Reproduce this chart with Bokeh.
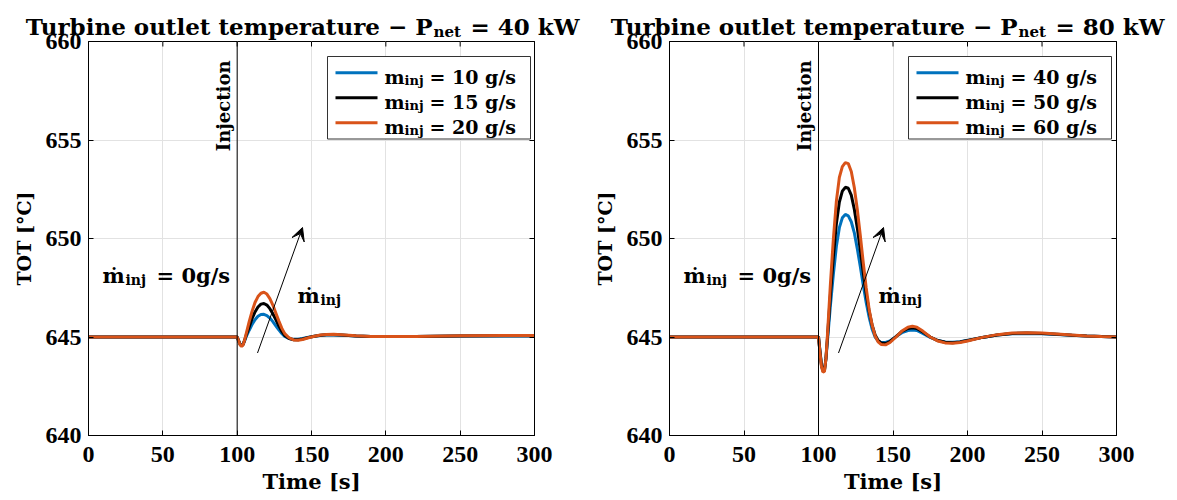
from math import pi
from bokeh.plotting import figure
from bokeh.layouts import row, column
from bokeh.models import (Range1d, Span, Label, Arrow, VeeHead, LinearAxis,
                          FixedTicker, CustomJSTickFormatter)
from bokeh.core.properties import value
from bokeh.embed import file_html
from bokeh.resources import INLINE

# ---------------- data ----------------
x_ticks = [0, 50, 100, 150, 200, 250, 300]
y_ticks = [640, 645, 650, 655, 660]
t_inj = 100

t_40 = [0, 100, 101, 102, 103, 104, 105, 106, 108, 110, 112, 114, 116, 118, 120,
        122, 124, 126, 128, 130, 132, 135, 138, 141, 144, 148, 152, 156, 160, 165,
        170, 175, 180, 190, 200, 220, 250, 280, 300]
tot_10 = [645.0, 645.0, 644.8, 644.64, 644.58, 644.64, 644.8, 645.0, 645.33, 645.63,
          645.88, 646.05, 646.14, 646.15, 646.09, 645.96, 645.78, 645.57, 645.36, 645.18,
          645.03, 644.92, 644.88, 644.89, 644.93, 644.99, 645.04, 645.08, 645.1, 645.1,
          645.09, 645.07, 645.05, 645.03, 645.02, 645.03, 645.05, 645.05, 645.05]
tot_15 = [645.0, 645.0, 644.8, 644.62, 644.55, 644.62, 644.83, 645.07, 645.5, 645.93,
          646.27, 646.52, 646.67, 646.7, 646.62, 646.44, 646.18, 645.88, 645.57, 645.29,
          645.08, 644.92, 644.86, 644.86, 644.9, 644.98, 645.04, 645.09, 645.11, 645.12,
          645.1, 645.08, 645.05, 645.03, 645.02, 645.03, 645.05, 645.06, 645.06]
tot_20 = [645.0, 645.0, 644.8, 644.6, 644.52, 644.6, 644.85, 645.15, 645.75, 646.3,
          646.75, 647.05, 647.22, 647.27, 647.18, 646.95, 646.62, 646.22, 645.82, 645.45,
          645.17, 644.95, 644.85, 644.83, 644.87, 644.96, 645.04, 645.1, 645.13, 645.14,
          645.12, 645.09, 645.06, 645.03, 645.02, 645.03, 645.06, 645.07, 645.07]

t_80 = [0, 100, 101, 102, 103, 104, 105, 106, 107, 108, 110, 112, 114, 116, 118, 120,
        122, 124, 126, 128, 130, 132, 134, 136, 138, 140, 142, 145, 148, 152, 156, 160,
        163, 166, 170, 175, 180, 185, 190, 195, 200, 210, 220, 230, 240, 250, 260, 270,
        280, 290, 300]
tot_40 = [645.0, 645.0, 644.3, 643.6, 643.32, 643.35, 643.9, 644.8, 645.7, 646.6,
          648.2, 649.6, 650.55, 651.05, 651.22, 651.15, 650.85, 650.3, 649.5, 648.6,
          647.65, 646.75, 646.0, 645.4, 645.0, 644.8, 644.72, 644.72, 644.8, 645.02,
          645.22, 645.33, 645.36, 645.33, 645.18, 644.98, 644.83, 644.75, 644.73, 644.76,
          644.83, 644.98, 645.1, 645.16, 645.18, 645.17, 645.13, 645.09, 645.05, 645.02, 645.0]
tot_50 = [645.0, 645.0, 644.25, 643.55, 643.27, 643.3, 643.9, 644.95, 646.05, 647.15,
          649.1, 650.75, 651.85, 652.4, 652.6, 652.55, 652.2, 651.5, 650.55, 649.45,
          648.3, 647.2, 646.3, 645.6, 645.1, 644.82, 644.7, 644.67, 644.77, 645.02,
          645.28, 645.43, 645.47, 645.43, 645.25, 645.0, 644.82, 644.73, 644.71, 644.75,
          644.82, 644.98, 645.1, 645.18, 645.2, 645.18, 645.14, 645.09, 645.05, 645.02, 645.0]
tot_60 = [645.0, 645.0, 644.2, 643.5, 643.22, 643.25, 643.9, 645.1, 646.4, 647.7,
          650.0, 651.9, 653.1, 653.65, 653.85, 653.8, 653.4, 652.6, 651.5, 650.2,
          648.8, 647.5, 646.4, 645.6, 645.05, 644.75, 644.62, 644.6, 644.72, 645.0,
          645.3, 645.5, 645.55, 645.5, 645.3, 645.0, 644.8, 644.7, 644.68, 644.72,
          644.8, 644.98, 645.12, 645.2, 645.22, 645.2, 645.15, 645.1, 645.05, 645.02, 645.0]

colors = ["#0072BD", "#000000", "#D95319"]
legend_40 = ["= 10 g/s", "= 15 g/s", "= 20 g/s"]
legend_80 = ["= 40 g/s", "= 50 g/s", "= 60 g/s"]
titles = ["= 40 kW", "= 80 kW"]

# ---------------- layout geometry (page pixels) ----------------
TITLE_H = 40
TOP, BOTTOM, H = 41, 435, 500
XMIN, XMAX, YMIN, YMAX = 0, 300, 640, 660
SERIF = "DejaVu Serif"
TICKF = "Liberation Serif"


def lab(x, y, text, size, **kw):
    return Label(x=x, y=y, text=text, text_font=SERIF, text_font_style="bold",
                 text_font_size=size, text_color="black", text_baseline="alphabetic", **kw)


def make_title(width, p_end, tail):
    # transparent strip laid over the top margin of the panel below it
    f = figure(width=width, height=TITLE_H, output_backend="svg", toolbar_location=None,
               x_range=Range1d(0, width), y_range=Range1d(TITLE_H, 0),
               x_axis_type=None, y_axis_type=None, min_border=0,
               outline_line_color=None, background_fill_color=None,
               border_fill_color=None)
    f.grid.visible = False
    common = dict(text_font=value(SERIF), text_font_style="bold", text_color="black",
                  text_baseline="alphabetic")
    f.text(x=[p_end], y=[26], text=["Turbine outlet temperature − P"], text_align="right",
           text_font_size="23px", **common)
    f.text(x=[p_end + 1], y=[31], text=["net"], text_align="left",
           text_font_size="15px", **common)
    f.text(x=[p_end + 38], y=[26], text=[tail], text_align="left",
           text_font_size="23px", **common)
    return f


def make_panel(page_left, width, frame_left, frame_w, t, series, leg_labels):
    fl = frame_left - page_left
    p = figure(width=width, height=H, output_backend="svg", toolbar_location=None,
               x_range=Range1d(XMIN, XMAX), y_range=Range1d(YMIN, YMAX),
               min_border_left=fl, min_border_right=width - fl - frame_w,
               min_border_top=TOP, min_border_bottom=H - BOTTOM,
               background_fill_color="white", border_fill_color="white")
    p.outline_line_color = "black"
    p.outline_line_width = 1

    def fx(px):
        return XMIN + (px - frame_left) / frame_w * (XMAX - XMIN)

    def fy(py):
        return YMAX - (py - TOP) / (BOTTOM - TOP) * (YMAX - YMIN)

    # axes
    for ax, tk in ((p.xaxis[0], x_ticks), (p.yaxis[0], y_ticks)):
        ax.ticker = FixedTicker(ticks=tk)
        ax.major_tick_in = 5
        ax.major_tick_out = 0
        ax.minor_tick_line_color = None
        ax.axis_line_color = "black"
        ax.major_tick_line_color = "black"
        ax.major_label_text_font = TICKF
        ax.major_label_text_font_style = "bold"
        ax.major_label_text_font_size = "24px"
        ax.major_label_text_color = "black"
        ax.axis_label_text_font = SERIF
        ax.axis_label_text_font_style = "bold"
        ax.axis_label_text_color = "black"
    p.xaxis.axis_label_text_font_size = "21px"
    p.yaxis.axis_label_text_font_size = "19px"
    p.xaxis.major_label_standoff = 11
    p.xaxis.axis_label_standoff = 4
    p.yaxis.major_label_standoff = 7
    p.yaxis.axis_label_standoff = 8
    p.xaxis.axis_label = "Time [s]"
    p.yaxis.axis_label = "TOT [°C]"

    ax = LinearAxis(ticker=FixedTicker(ticks=y_ticks),
                    formatter=CustomJSTickFormatter(code="return ''"),
                    major_tick_in=5, major_tick_out=0,
                    minor_tick_line_color=None, axis_line_color="black",
                    major_tick_line_color="black", major_label_standoff=0)
    p.add_layout(ax, "right")

    p.xgrid.ticker = FixedTicker(ticks=x_ticks)
    p.ygrid.ticker = FixedTicker(ticks=y_ticks)
    p.grid.grid_line_color = "#e2e2e2"
    p.grid.grid_line_width = 1

    # top inward ticks (box style)
    p.segment(x0=x_ticks, y0=[fy(TOP)] * len(x_ticks), x1=x_ticks,
              y1=[fy(TOP + 5)] * len(x_ticks), line_color="black", line_width=1)

    # curves
    for vals, c in zip(series, colors):
        p.line(t, vals, line_color=c, line_width=3)

    # injection line
    p.add_layout(Span(location=t_inj, dimension="height", line_color="black", line_width=1))
    inj_px = frame_left + (t_inj - XMIN) / (XMAX - XMIN) * frame_w
    p.add_layout(lab(fx(inj_px - 14), fy(60), "Injection", "18px", angle=pi / 2,
                     text_align="right"))

    # legend (manual, for subscripts)
    lx0 = frame_left + 239
    lx1 = frame_left + 442
    p.quad(left=fx(lx0), right=fx(lx1), top=fy(56), bottom=fy(138.5),
           fill_color="white", line_color="#333333", line_width=1)
    for i, (c, lb) in enumerate(zip(colors, leg_labels)):
        ry = 72.3 + 25 * i
        p.segment(x0=fx(lx0 + 8), y0=fy(ry), x1=fx(lx0 + 50), y1=fy(ry),
                  line_color=c, line_width=3)
        p.add_layout(lab(fx(lx0 + 57), fy(ry + 4.5), "m", "19px"))
        p.add_layout(lab(fx(lx0 + 77), fy(ry + 7.5), "inj", "13px"))
        p.add_layout(lab(fx(lx0 + 102), fy(ry + 4.5), lb, "19px"))

    # annotation "m_dot_inj = 0 g/s"
    ax0 = frame_left + 14
    p.add_layout(lab(fx(ax0), fy(275), "ṁ", "21px"))
    p.add_layout(lab(fx(ax0 + 23), fy(279), "inj", "14px"))
    p.add_layout(lab(fx(ax0 + 54), fy(275), "= 0g/s", "21px"))

    # arrow and its label
    p.add_layout(Arrow(x_start=fx(frame_left + 169), y_start=fy(352.5),
                       x_end=fx(frame_left + 214), y_end=fy(227),
                       line_color="black", line_width=1,
                       end=VeeHead(size=13, fill_color="black", line_color="black")))
    mx = frame_left + 209
    p.add_layout(lab(fx(mx), fy(295), "ṁ", "21px"))
    p.add_layout(lab(fx(mx + 23), fy(299), "inj", "14px"))
    return p


t1 = make_title(588, 432, titles[0])
t2 = make_title(589, 429, titles[1])
p1 = make_panel(0, 588, 88, 446, t_40, [tot_10, tot_15, tot_20], legend_40)
p2 = make_panel(588, 589, 669, 447, t_80, [tot_40, tot_50, tot_60], legend_80)

panels = row(p1, p2)
title_row = row(t1, t2, margin=(-H, 0, 0, 0))
layout = column(panels, title_row)
open("out.html", "w").write(file_html(layout, INLINE))
